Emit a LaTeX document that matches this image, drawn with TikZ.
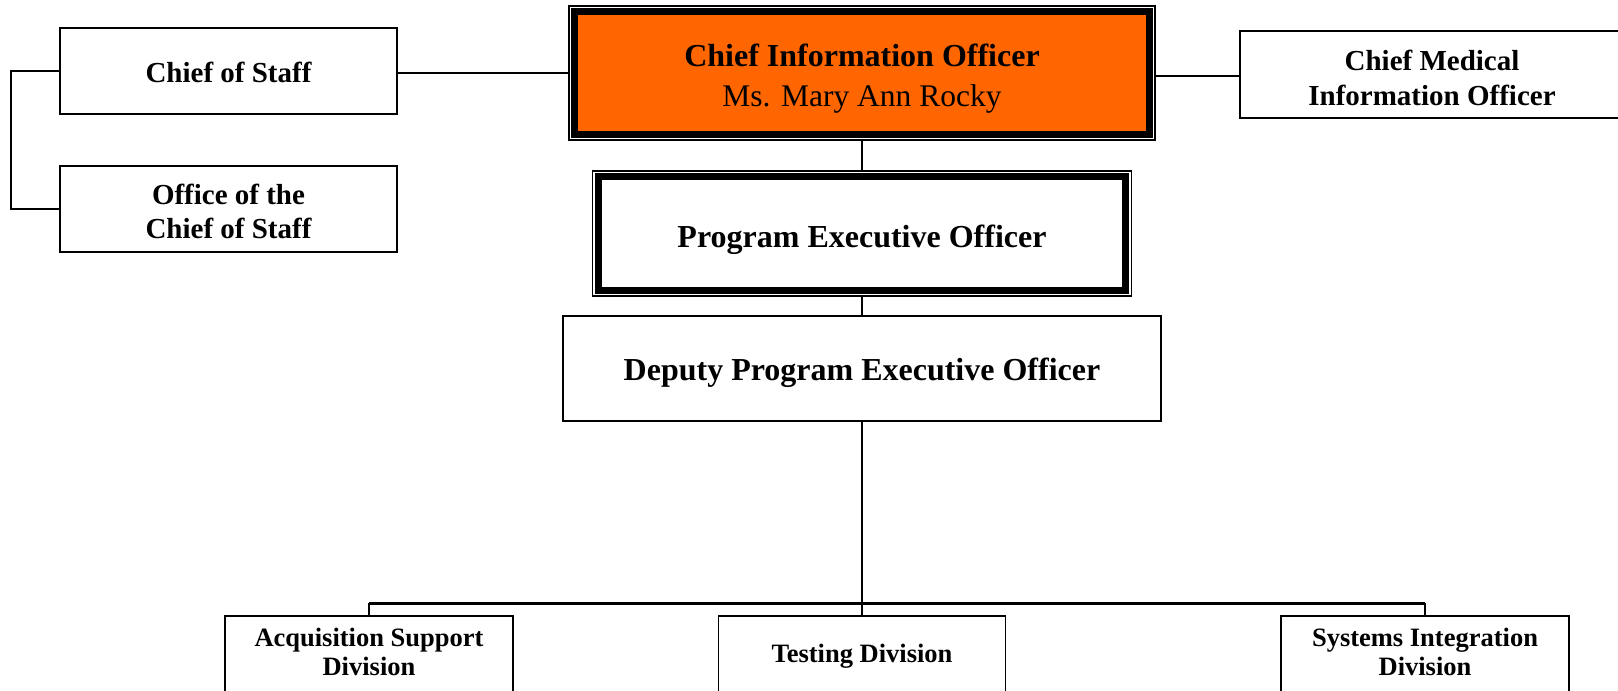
\documentclass[tikz,border=0pt]{standalone}
\usepackage{fontspec}
\setmainfont{Liberation Serif}
\usetikzlibrary{backgrounds}
\definecolor{cioorange}{RGB}{255,102,0}
\begin{document}
\begin{tikzpicture}[x=1pt,y=-1pt,
  box/.style={draw=black, line width=1.6pt, inner sep=0pt},
  dblbox/.style={draw=black, line width=1.3pt, inner sep=0pt},
  txt/.style={inner sep=0pt, align=center, font=\bfseries\fontsize{29}{34}\selectfont},
  bigtxt/.style={inner sep=0pt, align=center, font=\bfseries\fontsize{32}{38}\selectfont},
  divlbl/.style={inner sep=0pt, align=center, font=\bfseries\fontsize{26.5}{28.5}\selectfont},
  conn/.style={draw=black, line width=1.6pt},
  busbar/.style={draw=black, line width=3pt},
  thickframe/.style={draw=black, line width=7pt}]
\useasboundingbox (0,0) rectangle (1618,691);
\clip (0,0) rectangle (1618,691);

% side boxes
\node[box, minimum width=337pt, minimum height=86pt] (cos) at (228.5,71) {};
\node[box, minimum width=337pt, minimum height=86pt] (ocos) at (228.5,209) {};
\node[box, minimum width=384pt, minimum height=87pt] (cmio) at (1432,74.5) {};
\node[txt] (cosT) at ([yshift=-1pt]cos.center) {Chief of Staff};
\node[txt] (ocosT) at ([yshift=-2pt]ocos.center) {Office of the\\Chief of Staff};
\node[txt, font=\bfseries\fontsize{29}{35}\selectfont] (cmioT) at ([yshift=-3.6pt]cmio.center) {Chief Medical\\Information Officer};

% main column
\node[dblbox, minimum width=586pt, minimum height=134pt] (cio) at (862,73) {};
\node[dblbox, minimum width=539pt, minimum height=125pt] (peo) at (862,233.5) {};
\node[box, minimum width=598pt, minimum height=105pt] (dep) at (862,368.5) {};
\node[inner sep=0pt, align=center, font=\fontsize{32}{40}\selectfont] (cioT) at ([yshift=-5.6pt]cio.center)
  {{\bfseries Chief Information Officer}\\{\fontsize{31.5}{40}\selectfont Ms. Mary Ann Rocky}};
\node[bigtxt] (peoT) at ([yshift=-6.2pt]peo.center) {Program Executive Officer};
\node[bigtxt] (depT) at ([yshift=-4.1pt]dep.center) {Deputy Program Executive Officer};

% divisions
\node[box, minimum width=288pt, minimum height=140pt, anchor=north] (acq) at (369,615) {};
\node[box, minimum width=287pt, minimum height=140pt, anchor=north] (test) at (862,615) {};
\node[box, minimum width=288pt, minimum height=140pt, anchor=north] (sys) at (1425,615) {};
\node[divlbl, anchor=north] (acqT) at ([yshift=-13pt]acq.north) {Acquisition Support\\Division};
\node[divlbl, anchor=north] (testT) at ([yshift=-29pt]test.north) {Testing Division};
\node[divlbl, anchor=north] (sysT) at ([yshift=-13pt]sys.north) {Systems Integration\\Division};

\begin{scope}[on background layer]
  \draw[thickframe, fill=cioorange] ([shift={(6.5,6.5)}]cio.north west) rectangle ([shift={(-6.5,-6.5)}]cio.south east);
  \draw[thickframe] ([shift={(6.5,6.5)}]peo.north west) rectangle ([shift={(-6.5,-6.5)}]peo.south east);
\end{scope}

% connectors
\coordinate (cmioY) at (0,76);
\coordinate (busy) at (0,603);
\draw[conn] (cos.west) -- ++(-48,0) |- (ocos.west);
\draw[conn] (cio.west) -- (cio.west -| cos.east);
\draw[conn] (cio.east |- cmioY) -- (cmio.west |- cmioY);
\draw[conn] (cio.south) -- (peo.north);
\draw[conn] (peo.south) -- (peo.south |- dep.north);
\draw[conn] (dep.south) -- (test.north);
\draw[busbar] (acq.north |- busy) -- (sys.north |- busy);
\draw[conn] (acq.north |- busy) -- (acq.north);
\draw[conn] (sys.north |- busy) -- (sys.north);
\end{tikzpicture}
\end{document}
